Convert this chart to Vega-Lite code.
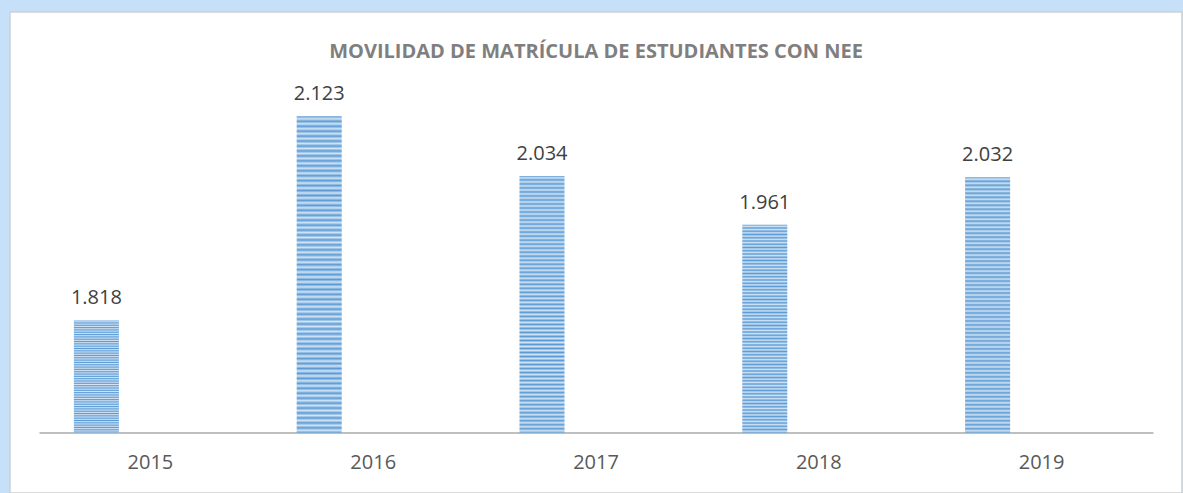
{
  "$schema": "https://vega.github.io/schema/vega-lite/v6.json",
  "width": 1172,
  "height": 481,
  "autosize": {"type": "none"},
  "padding": {"left": 10, "top": 12, "right": 1, "bottom": 0},
  "background": "#C6E0FA",
  "config": {
    "view": {"fill": "white", "stroke": "#D0D0D0", "strokeWidth": 1.5},
    "locale": {"number": {"decimal": ",", "thousands": ".", "grouping": [3], "currency": ["", " €"]}}
  },
  "title": {
    "text": "MOVILIDAD DE MATRÍCULA DE ESTUDIANTES CON NEE",
    "font": "Open Sans",
    "fontSize": 20,
    "fontWeight": "bold",
    "color": "#7F7F7F",
    "anchor": "middle",
    "frame": "group",
    "offset": -50
  },
  "data": {
    "values": [
      {"anio": "2015", "serie": "NEE", "matricula": 1818},
      {"anio": "2016", "serie": "NEE", "matricula": 2123},
      {"anio": "2017", "serie": "NEE", "matricula": 2034},
      {"anio": "2018", "serie": "NEE", "matricula": 1961},
      {"anio": "2019", "serie": "NEE", "matricula": 2032}
    ]
  },
  "encoding": {
    "x": {
      "field": "anio",
      "type": "nominal",
      "scale": {"range": [29, 1143], "paddingInner": 0, "paddingOuter": 0},
      "axis": {
        "title": null,
        "orient": "bottom",
        "offset": -60.5,
        "labelAngle": 0,
        "ticks": false,
        "domainColor": "#BFBFBF",
        "domainWidth": 2,
        "labelFont": "Open Sans",
        "labelFontSize": 20,
        "labelColor": "#595959",
        "labelPadding": 20
      }
    },
    "xOffset": {
      "field": "serie",
      "type": "nominal",
      "scale": {"domain": ["NEE", "otro"], "paddingInner": 0.583, "paddingOuter": 0.323}
    },
    "y": {
      "field": "matricula",
      "type": "quantitative",
      "scale": {"domain": [1560, 2279], "zero": false, "nice": false},
      "axis": null
    }
  },
  "layer": [
    {
      "mark": {
        "type": "bar",
        "fill": {
          "gradient": "linear", "x1": 0, "y1": 0, "x2": 0, "y2": 1,
          "stops": [
            {"offset": 0, "color": "#5B9BD5"}, {"offset": 0.0078, "color": "#D2E4F5"},
            {"offset": 0.0156, "color": "#5B9BD5"}, {"offset": 0.0234, "color": "#D2E4F5"},
            {"offset": 0.0313, "color": "#5B9BD5"}, {"offset": 0.0391, "color": "#D2E4F5"},
            {"offset": 0.0469, "color": "#5B9BD5"}, {"offset": 0.0547, "color": "#D2E4F5"},
            {"offset": 0.0625, "color": "#5B9BD5"}, {"offset": 0.0703, "color": "#D2E4F5"},
            {"offset": 0.0781, "color": "#5B9BD5"}, {"offset": 0.0859, "color": "#D2E4F5"},
            {"offset": 0.0938, "color": "#5B9BD5"}, {"offset": 0.1016, "color": "#D2E4F5"},
            {"offset": 0.1094, "color": "#5B9BD5"}, {"offset": 0.1172, "color": "#D2E4F5"},
            {"offset": 0.125, "color": "#5B9BD5"}, {"offset": 0.1328, "color": "#D2E4F5"},
            {"offset": 0.1406, "color": "#5B9BD5"}, {"offset": 0.1484, "color": "#D2E4F5"},
            {"offset": 0.1563, "color": "#5B9BD5"}, {"offset": 0.1641, "color": "#D2E4F5"},
            {"offset": 0.1719, "color": "#5B9BD5"}, {"offset": 0.1797, "color": "#D2E4F5"},
            {"offset": 0.1875, "color": "#5B9BD5"}, {"offset": 0.1953, "color": "#D2E4F5"},
            {"offset": 0.2031, "color": "#5B9BD5"}, {"offset": 0.2109, "color": "#D2E4F5"},
            {"offset": 0.2188, "color": "#5B9BD5"}, {"offset": 0.2266, "color": "#D2E4F5"},
            {"offset": 0.2344, "color": "#5B9BD5"}, {"offset": 0.2422, "color": "#D2E4F5"},
            {"offset": 0.25, "color": "#5B9BD5"}, {"offset": 0.2578, "color": "#D2E4F5"},
            {"offset": 0.2656, "color": "#5B9BD5"}, {"offset": 0.2734, "color": "#D2E4F5"},
            {"offset": 0.2813, "color": "#5B9BD5"}, {"offset": 0.2891, "color": "#D2E4F5"},
            {"offset": 0.2969, "color": "#5B9BD5"}, {"offset": 0.3047, "color": "#D2E4F5"},
            {"offset": 0.3125, "color": "#5B9BD5"}, {"offset": 0.3203, "color": "#D2E4F5"},
            {"offset": 0.3281, "color": "#5B9BD5"}, {"offset": 0.3359, "color": "#D2E4F5"},
            {"offset": 0.3438, "color": "#5B9BD5"}, {"offset": 0.3516, "color": "#D2E4F5"},
            {"offset": 0.3594, "color": "#5B9BD5"}, {"offset": 0.3672, "color": "#D2E4F5"},
            {"offset": 0.375, "color": "#5B9BD5"}, {"offset": 0.3828, "color": "#D2E4F5"},
            {"offset": 0.3906, "color": "#5B9BD5"}, {"offset": 0.3984, "color": "#D2E4F5"},
            {"offset": 0.4063, "color": "#5B9BD5"}, {"offset": 0.4141, "color": "#D2E4F5"},
            {"offset": 0.4219, "color": "#5B9BD5"}, {"offset": 0.4297, "color": "#D2E4F5"},
            {"offset": 0.4375, "color": "#5B9BD5"}, {"offset": 0.4453, "color": "#D2E4F5"},
            {"offset": 0.4531, "color": "#5B9BD5"}, {"offset": 0.4609, "color": "#D2E4F5"},
            {"offset": 0.4688, "color": "#5B9BD5"}, {"offset": 0.4766, "color": "#D2E4F5"},
            {"offset": 0.4844, "color": "#5B9BD5"}, {"offset": 0.4922, "color": "#D2E4F5"},
            {"offset": 0.5, "color": "#5B9BD5"}, {"offset": 0.5078, "color": "#D2E4F5"},
            {"offset": 0.5156, "color": "#5B9BD5"}, {"offset": 0.5234, "color": "#D2E4F5"},
            {"offset": 0.5313, "color": "#5B9BD5"}, {"offset": 0.5391, "color": "#D2E4F5"},
            {"offset": 0.5469, "color": "#5B9BD5"}, {"offset": 0.5547, "color": "#D2E4F5"},
            {"offset": 0.5625, "color": "#5B9BD5"}, {"offset": 0.5703, "color": "#D2E4F5"},
            {"offset": 0.5781, "color": "#5B9BD5"}, {"offset": 0.5859, "color": "#D2E4F5"},
            {"offset": 0.5938, "color": "#5B9BD5"}, {"offset": 0.6016, "color": "#D2E4F5"},
            {"offset": 0.6094, "color": "#5B9BD5"}, {"offset": 0.6172, "color": "#D2E4F5"},
            {"offset": 0.625, "color": "#5B9BD5"}, {"offset": 0.6328, "color": "#D2E4F5"},
            {"offset": 0.6406, "color": "#5B9BD5"}, {"offset": 0.6484, "color": "#D2E4F5"},
            {"offset": 0.6563, "color": "#5B9BD5"}, {"offset": 0.6641, "color": "#D2E4F5"},
            {"offset": 0.6719, "color": "#5B9BD5"}, {"offset": 0.6797, "color": "#D2E4F5"},
            {"offset": 0.6875, "color": "#5B9BD5"}, {"offset": 0.6953, "color": "#D2E4F5"},
            {"offset": 0.7031, "color": "#5B9BD5"}, {"offset": 0.7109, "color": "#D2E4F5"},
            {"offset": 0.7188, "color": "#5B9BD5"}, {"offset": 0.7266, "color": "#D2E4F5"},
            {"offset": 0.7344, "color": "#5B9BD5"}, {"offset": 0.7422, "color": "#D2E4F5"},
            {"offset": 0.75, "color": "#5B9BD5"}, {"offset": 0.7578, "color": "#D2E4F5"},
            {"offset": 0.7656, "color": "#5B9BD5"}, {"offset": 0.7734, "color": "#D2E4F5"},
            {"offset": 0.7813, "color": "#5B9BD5"}, {"offset": 0.7891, "color": "#D2E4F5"},
            {"offset": 0.7969, "color": "#5B9BD5"}, {"offset": 0.8047, "color": "#D2E4F5"},
            {"offset": 0.8125, "color": "#5B9BD5"}, {"offset": 0.8203, "color": "#D2E4F5"},
            {"offset": 0.8281, "color": "#5B9BD5"}, {"offset": 0.8359, "color": "#D2E4F5"},
            {"offset": 0.8438, "color": "#5B9BD5"}, {"offset": 0.8516, "color": "#D2E4F5"},
            {"offset": 0.8594, "color": "#5B9BD5"}, {"offset": 0.8672, "color": "#D2E4F5"},
            {"offset": 0.875, "color": "#5B9BD5"}, {"offset": 0.8828, "color": "#D2E4F5"},
            {"offset": 0.8906, "color": "#5B9BD5"}, {"offset": 0.8984, "color": "#D2E4F5"},
            {"offset": 0.9063, "color": "#5B9BD5"}, {"offset": 0.9141, "color": "#D2E4F5"},
            {"offset": 0.9219, "color": "#5B9BD5"}, {"offset": 0.9297, "color": "#D2E4F5"},
            {"offset": 0.9375, "color": "#5B9BD5"}, {"offset": 0.9453, "color": "#D2E4F5"},
            {"offset": 0.9531, "color": "#5B9BD5"}, {"offset": 0.9609, "color": "#D2E4F5"},
            {"offset": 0.9688, "color": "#5B9BD5"}, {"offset": 0.9766, "color": "#D2E4F5"},
            {"offset": 0.9844, "color": "#5B9BD5"}, {"offset": 0.9922, "color": "#D2E4F5"},
            {"offset": 1, "color": "#5B9BD5"}
          ]
        }
      },
      "encoding": {"y2": {"datum": 1650}}
    },
    {
      "mark": {"type": "text", "baseline": "alphabetic", "dy": -16, "font": "Open Sans", "fontSize": 20, "color": "#404040"},
      "encoding": {"text": {"field": "matricula", "type": "quantitative", "format": ",d"}}
    }
  ]
}
